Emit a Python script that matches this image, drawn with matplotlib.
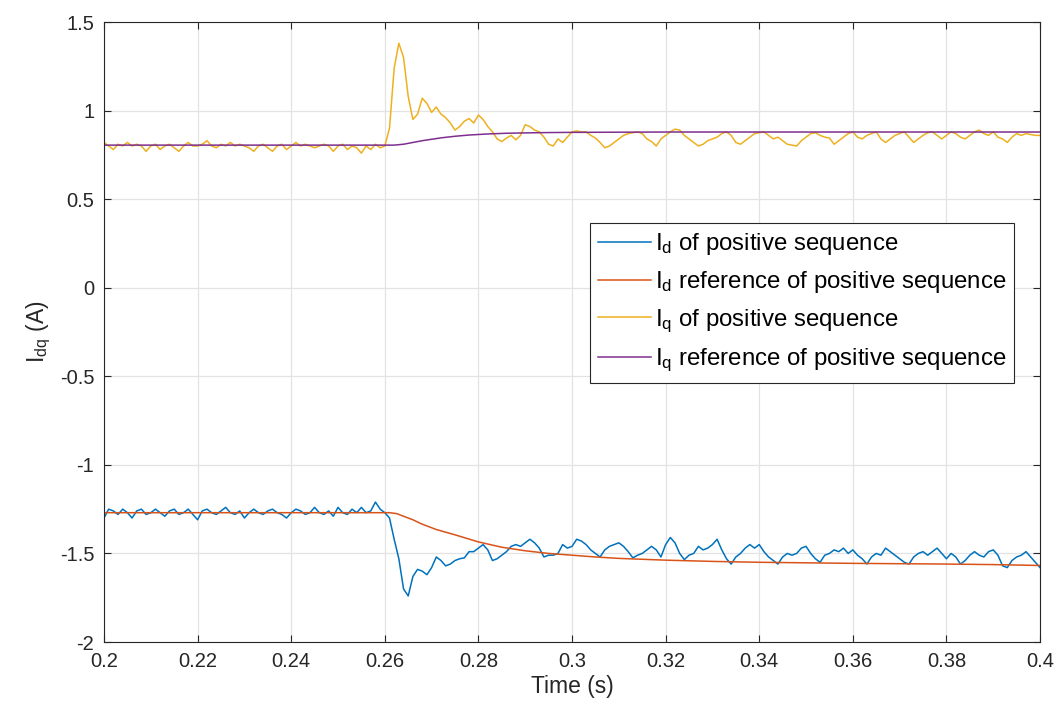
import numpy as np
import matplotlib
matplotlib.use("Agg")
import matplotlib.pyplot as plt
from matplotlib.ticker import FuncFormatter

plt.rcParams['font.family'] = ['Liberation Sans', 'DejaVu Sans']
plt.rcParams['mathtext.fontset'] = 'custom'
plt.rcParams['mathtext.rm'] = 'Liberation Sans'
plt.rcParams['mathtext.it'] = 'Liberation Sans'
plt.rcParams['axes.unicode_minus'] = False

# ---- data ----
t_start = 0.2
t_step = 0.001

iq_meas = [
    0.82, 0.80, 0.78, 0.81, 0.80, 0.82, 0.80, 0.81, 0.80, 0.77,
    0.80, 0.81, 0.78, 0.80, 0.81, 0.79, 0.77, 0.80, 0.82, 0.80,
    0.80, 0.81, 0.83, 0.80, 0.79, 0.81, 0.80, 0.82, 0.80, 0.81,
    0.80, 0.79, 0.77, 0.80, 0.81, 0.79, 0.77, 0.80, 0.81, 0.78,
    0.80, 0.82, 0.80, 0.81, 0.80, 0.79, 0.80, 0.81, 0.80, 0.77,
    0.80, 0.81, 0.78, 0.80, 0.79, 0.76, 0.80, 0.78, 0.81, 0.79,
    0.80, 0.90, 1.24, 1.38, 1.30, 1.08, 0.95, 0.98, 1.07, 1.04,
    0.99, 1.02, 0.98, 0.96, 0.93, 0.89, 0.91, 0.94, 0.955, 0.93,
    0.975, 0.95, 0.91, 0.88, 0.84, 0.825, 0.845, 0.86, 0.835, 0.86,
    0.92, 0.91, 0.89, 0.88, 0.85, 0.81, 0.80, 0.84, 0.82, 0.85,
    0.88, 0.885, 0.88, 0.88, 0.86, 0.845, 0.82, 0.79, 0.80, 0.82,
    0.84, 0.86, 0.87, 0.875, 0.88, 0.87, 0.84, 0.825, 0.80, 0.84,
    0.86, 0.88, 0.895, 0.89, 0.86, 0.84, 0.82, 0.80, 0.81, 0.83,
    0.84, 0.85, 0.87, 0.88, 0.86, 0.82, 0.81, 0.83, 0.85, 0.87,
    0.875, 0.88, 0.86, 0.84, 0.85, 0.83, 0.81, 0.805, 0.80, 0.83,
    0.85, 0.87, 0.875, 0.86, 0.85, 0.845, 0.81, 0.83, 0.85, 0.87,
    0.88, 0.85, 0.84, 0.86, 0.87, 0.88, 0.84, 0.82, 0.84, 0.86,
    0.87, 0.88, 0.85, 0.82, 0.84, 0.86, 0.875, 0.88, 0.86, 0.84,
    0.86, 0.88, 0.87, 0.85, 0.84, 0.86, 0.88, 0.89, 0.87, 0.86,
    0.88, 0.85, 0.84, 0.82, 0.85, 0.87, 0.86, 0.87, 0.865, 0.86,
    0.86,
]

id_meas = [
    -1.30, -1.25, -1.26, -1.28, -1.25, -1.27, -1.30, -1.26, -1.25, -1.28,
    -1.27, -1.25, -1.27, -1.29, -1.26, -1.25, -1.28, -1.27, -1.25, -1.28,
    -1.31, -1.26, -1.25, -1.27, -1.28, -1.26, -1.24, -1.27, -1.28, -1.26,
    -1.30, -1.27, -1.25, -1.27, -1.28, -1.26, -1.25, -1.27, -1.28, -1.30,
    -1.27, -1.25, -1.26, -1.28, -1.27, -1.24, -1.27, -1.28, -1.26, -1.29,
    -1.24, -1.27, -1.28, -1.25, -1.27, -1.24, -1.27, -1.26, -1.21, -1.25,
    -1.27, -1.30, -1.42, -1.53, -1.70, -1.74, -1.63, -1.59, -1.60, -1.62,
    -1.58, -1.52, -1.54, -1.57, -1.56, -1.54, -1.53, -1.525, -1.49, -1.49,
    -1.47, -1.45, -1.48, -1.54, -1.53, -1.51, -1.49, -1.46, -1.45, -1.46,
    -1.44, -1.42, -1.44, -1.47, -1.52, -1.51, -1.51, -1.50, -1.45, -1.47,
    -1.46, -1.42, -1.43, -1.45, -1.48, -1.50, -1.52, -1.48, -1.46, -1.45,
    -1.44, -1.46, -1.49, -1.525, -1.51, -1.50, -1.48, -1.46, -1.48, -1.52,
    -1.45, -1.41, -1.44, -1.50, -1.535, -1.51, -1.50, -1.46, -1.48, -1.47,
    -1.45, -1.42, -1.48, -1.53, -1.56, -1.52, -1.50, -1.47, -1.45, -1.47,
    -1.45, -1.49, -1.52, -1.54, -1.56, -1.52, -1.50, -1.51, -1.50, -1.47,
    -1.46, -1.50, -1.53, -1.55, -1.51, -1.50, -1.48, -1.49, -1.47, -1.50,
    -1.48, -1.51, -1.53, -1.56, -1.52, -1.50, -1.51, -1.47, -1.49, -1.51,
    -1.53, -1.55, -1.56, -1.52, -1.50, -1.49, -1.51, -1.49, -1.47, -1.50,
    -1.53, -1.50, -1.52, -1.56, -1.54, -1.51, -1.49, -1.51, -1.52, -1.49,
    -1.48, -1.51, -1.57, -1.58, -1.54, -1.52, -1.51, -1.49, -1.52, -1.55,
    -1.58,
]

t_ref_d = [0.200, 0.261, 0.2625, 0.264, 0.266, 0.268, 0.271, 0.275, 0.280,
           0.285, 0.290, 0.295, 0.300, 0.305, 0.310, 0.320, 0.330, 0.340,
           0.350, 0.360, 0.370, 0.380, 0.390, 0.400]
id_ref = [-1.27, -1.27, -1.275, -1.29, -1.31, -1.335, -1.365, -1.395, -1.435,
          -1.465, -1.485, -1.50, -1.51, -1.52, -1.528, -1.538, -1.545, -1.55,
          -1.553, -1.556, -1.558, -1.56, -1.563, -1.568]

t_ref_q = [0.200, 0.262, 0.264, 0.266, 0.268, 0.270, 0.272, 0.275, 0.278,
           0.282, 0.286, 0.290, 0.295, 0.300, 0.310, 0.320, 0.340, 0.360,
           0.380, 0.400]
iq_ref = [0.805, 0.805, 0.81, 0.82, 0.83, 0.838, 0.846, 0.855, 0.862,
          0.868, 0.872, 0.874, 0.876, 0.877, 0.878, 0.879, 0.879, 0.879,
          0.879, 0.879]

legend_labels = [
    r'I$_{\mathrm{d}}$ of positive sequence',
    r'I$_{\mathrm{d}}$ reference of positive sequence',
    r'I$_{\mathrm{q}}$ of positive sequence',
    r'I$_{\mathrm{q}}$ reference of positive sequence',
]
x_ticks = [0.2, 0.22, 0.24, 0.26, 0.28, 0.3, 0.32, 0.34, 0.36, 0.38, 0.4]
y_ticks = [-2, -1.5, -1, -0.5, 0, 0.5, 1, 1.5]

# ---- plot ----
t_meas = t_start + t_step * np.arange(len(iq_meas))

fig = plt.figure(figsize=(10.59, 7.17), dpi=100)
ax = fig.add_axes([0.0982, 0.1046, 0.8839, 0.8647])

colors = ['#0072BD', '#D95319', '#EDB120', '#7E2F8E']
lw = 1.1
ax.plot(t_meas, id_meas, color=colors[0], lw=lw, label=legend_labels[0])
ax.plot(t_ref_d, id_ref, color=colors[1], lw=lw, label=legend_labels[1])
ax.plot(t_meas, iq_meas, color=colors[2], lw=lw, label=legend_labels[2])
ax.plot(t_ref_q, iq_ref, color=colors[3], lw=lw, label=legend_labels[3])

ax.set_xlim(0.2, 0.4)
ax.set_ylim(-2, 1.5)
ax.set_xticks(x_ticks)
ax.set_yticks(y_ticks)
fmt = FuncFormatter(lambda v, p: ('%g' % round(v, 4)))
ax.xaxis.set_major_formatter(fmt)
ax.yaxis.set_major_formatter(fmt)

ax.grid(True, color='#e3e3e3', lw=0.9)
ax.set_axisbelow(True)
for s in ax.spines.values():
    s.set_color('#262626')
    s.set_linewidth(0.8)
ax.tick_params(direction='in', length=5, width=0.8, colors='#262626',
               labelsize=14.5, top=True, right=True, pad=7)

ax.set_xlabel('Time (s)', fontsize=16.5, color='#262626', labelpad=3)
ax.set_ylabel(r'I$_{\mathrm{dq}}$ (A)', fontsize=16.5, color='#262626', labelpad=5)

leg = ax.legend(loc='upper left', bbox_to_anchor=(0.519, 0.676),
                fontsize=17.3, frameon=True, fancybox=False, framealpha=1,
                edgecolor='#262626', handlelength=2.2, handletextpad=0.15,
                borderpad=0.35, labelspacing=0.5, borderaxespad=0)
leg.get_frame().set_linewidth(0.8)

fig.savefig('out.png', dpi=100)
